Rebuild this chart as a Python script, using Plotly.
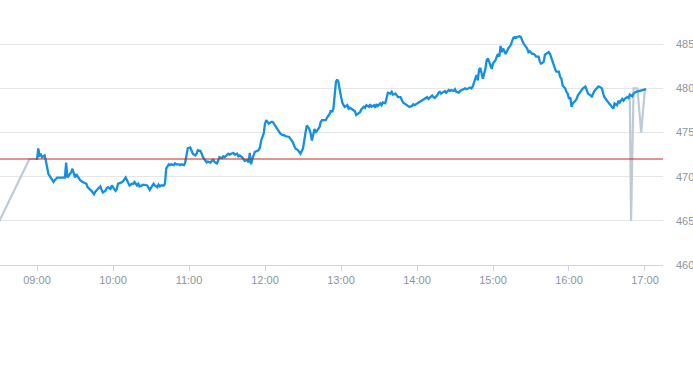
import datetime as dt
import plotly.graph_objects as go

DAY = "2024-01-02"
OPEN = dt.datetime(2024, 1, 2, 9, 0)

# ---- intraday price (minutes after 09:00 open) ----
min_a = [0,1,2,3,4,6,7,9,10,12,13,14,16,18,21,22,23,24,25,27,28,29,30,31,33,34,36,38,39,40,
         42,43,45,46,48,50,51,52,54,55,56,58,59,60,62,63,64,66,68,70,72,73,75,76,77,79,80,81,84]
val_a = [471.9,473.2,472.4,472.5,472.2,472.4,471.8,470.3,470.1,469.7,469.4,469.6,469.9,469.9,469.9,
         469.9,471.6,469.9,470.1,470.5,470.9,470.5,469.9,470.3,469.9,469.6,469.4,469.2,469.2,468.8,
         468.6,468.4,468.0,468.3,468.6,468.9,468.5,468.2,468.4,468.7,468.8,468.6,469.0,468.8,468.4,
         468.6,469.2,469.3,469.5,469.9,469.4,469.0,469.2,469.2,469.4,469.0,469.2,468.9,469.1]

min_b = [87,89,91,92,93,95,96,97,98,100,101,102,104,105,106,108,109,110,112,113,114,116,117,118,
         119,121,122,123,125,126,127,129,130,131,133,134,135,137,138,139,140,142,143,144,146,147,
         148,150,151,152,154,155,156,158,159,160,162,163,164,166,167,168,169,170]
val_b = [469.0,468.5,469.0,469.2,469.0,468.8,469.1,468.9,469.0,469.0,469.2,470.9,471.4,471.3,471.4,
         471.3,471.5,471.4,471.4,471.3,471.4,471.3,471.6,472.6,473.2,473.3,472.8,472.6,472.4,472.6,
         473.0,472.9,472.6,472.2,471.8,471.6,471.7,471.6,471.8,471.9,471.7,471.5,471.8,472.2,472.1,
         472.3,472.2,472.4,472.6,472.5,472.6,472.7,472.5,472.6,472.3,472.4,472.2,472.0,471.8,471.9,
         471.6,472.7,471.4,472.0]

min_c = [172,175,176,177,179,180,181,182,183,185,186,187,188,190,191,192,194,195,196,198,199,200,
         202,203,204,206,207,208,210,211,212,213,214,215,216,217,218,219,220,221,223,224,225,227,
         228,229,231,232,233,234,235,236,237,238,239,240,241,242,243,245,246,247,249,250,251,252,
         254,255]
val_c = [472.8,473.0,473.3,474.1,474.9,476.0,476.4,476.2,476.0,476.2,476.2,476.0,475.8,475.4,475.2,
         474.9,474.7,474.7,474.6,474.5,474.5,474.3,473.9,473.5,473.2,473.0,472.8,472.6,473.2,473.9,
         475.0,475.8,475.6,475.4,474.9,474.1,474.7,475.4,475.0,475.2,475.6,476.2,476.4,476.4,476.4,
         476.7,477.1,477.5,477.3,477.7,479.4,480.7,481.0,480.7,479.8,479.0,478.4,478.1,477.9,478.1,
         477.7,477.8,477.6,477.5,477.4,477.0,477.2,477.3]

min_d = [256,258,259,260,262,263,264,266,267,268,269,271,272,273,275,276,277,279,280,281,283,284,
         285,287,288,289,290,292,293,294,296,297,298,300,301,302,304,305,306,308,309,310,312,313,
         314,316,317,318,319,321,322,323,325,326,327,329,330,331,333,334,335,337,338,339,340,342,
         343,344]
val_d = [477.6,477.9,477.8,478.1,477.9,478.2,477.9,478.1,477.8,478.2,478.0,478.3,478.1,478.4,478.3,
         478.8,479.5,479.4,479.6,479.3,479.4,479.2,479.0,479.0,478.7,478.4,478.3,478.1,477.9,477.9,
         478.0,478.2,478.1,478.3,478.4,478.4,478.6,478.8,478.8,479.0,478.8,478.9,479.2,479.0,478.9,
         479.2,479.5,479.6,479.4,479.6,479.7,479.5,479.8,479.7,479.8,479.7,479.9,479.6,479.5,479.7,
         479.8,479.9,480.0,479.9,480.0,480.1,480.0,480.2]

min_e = [346,347,348,349,350,351,352,354,355,356,358,359,360,362,363,364,365,366,367,368,370,371,
         372,374,376,377,378,379,381,382,383,384,385,387,388,389,391,392,393,394,396,397,398,400,
         401,402,404,405,406,408,409,410,412,413,414,415,417,418,419,420,421,422,423,425,426,427,
         429,430,431,433]
val_e = [481.1,481.5,480.9,482.1,482.3,481.5,481.1,482.2,483.2,483.4,482.6,482.2,482.8,483.2,483.6,
         483.9,483.6,484.8,484.1,484.5,483.9,484.3,484.5,484.9,485.7,485.8,485.7,485.8,485.9,485.8,
         485.3,485.1,484.9,484.5,484.1,484.2,483.9,483.9,483.8,483.6,483.6,483.0,482.8,483.0,483.8,
         483.9,484.1,483.9,483.4,482.6,482.2,481.9,481.9,481.3,481.1,480.3,480.0,479.6,479.4,478.8,
         479.0,477.9,478.3,478.6,478.8,479.2,479.6,479.8,480.0,480.2]

min_f = [434,435,437,438,439,440,442,443,444,446,447,448,450,451,452,454,455,456,458,459,460,462,
         463,464,466,467,468,470,471,473,476,479,481]
val_f = [479.7,479.4,479.2,479.0,479.4,479.7,480.0,480.2,480.2,480.0,479.4,479.0,478.6,478.4,478.3,
         477.9,477.7,478.3,478.1,478.6,478.4,478.8,478.6,478.8,479.0,478.9,479.3,479.1,479.4,479.6,
         479.7,479.8,479.9]

# ---- pre / post market (grey) ----
pre_times = ["08:30", "08:54", "09:00"]
pre_vals = [464.9, 472.0, 472.0]
post_times = ["16:48", "16:49", "16:51", "16:54", "16:57", "17:00"]
post_vals = [479.2, 465.0, 480.0, 480.0, 475.0, 480.0]

prev_close = 472.0

y_ticks = [460, 465, 470, 475, 480, 485]
x_tick_labels = ["09:00", "10:00", "11:00", "12:00", "13:00", "14:00", "15:00", "16:00", "17:00"]

minutes = min_a + min_b + min_c + min_d + min_e + min_f
prices = val_a + val_b + val_c + val_d + val_e + val_f
assert len(minutes) == len(prices)
times = [OPEN + dt.timedelta(minutes=m) for m in minutes]

def ts(hhmm):
    return f"{DAY} {hhmm}"

grey_x = [ts(t) for t in pre_times] + [None] + [ts(t) for t in post_times]
grey_y = pre_vals + [None] + post_vals

fig = go.Figure()
fig.add_trace(go.Scatter(x=grey_x, y=grey_y, mode="lines",
                         line=dict(color="#bccbd6", width=2.2), connectgaps=False,
                         hoverinfo="skip"))
fig.add_trace(go.Scatter(x=times, y=prices, mode="lines",
                         line=dict(color="#1490e0", width=2.3)))

x0 = f"{DAY} 08:30:47"
x1 = f"{DAY} 17:14:13"
fig.add_shape(type="line", xref="x", yref="y", x0=x0, x1=x1, y0=prev_close, y1=prev_close,
              line=dict(color="#cc2418", width=1), layer="above")

fig.update_layout(
    width=693, height=365,
    margin=dict(l=0, r=30, t=0, b=100),
    paper_bgcolor="white", plot_bgcolor="white",
    showlegend=False,
    font=dict(family="Liberation Sans, Arial, sans-serif", size=11, color="#8a96a3"),
)
fig.update_xaxes(
    type="date", range=[x0, x1],
    tickvals=[ts(t) for t in x_tick_labels], ticktext=x_tick_labels,
    showgrid=False, showline=True, linecolor="#ccd6eb", linewidth=1,
    ticks="outside", ticklen=5, tickcolor="#ccd6eb", zeroline=False,
)
fig.update_yaxes(
    side="right", range=[460, 490], tickvals=y_ticks,
    showgrid=True, gridcolor="#e6e6e6", gridwidth=1, zeroline=False,
    showline=False, ticks="", ticklabelstandoff=12,
)

fig.write_html("out.html", config={"displayModeBar": False},
               post_script="document.body.style.margin='0';document.body.style.padding='0';")
